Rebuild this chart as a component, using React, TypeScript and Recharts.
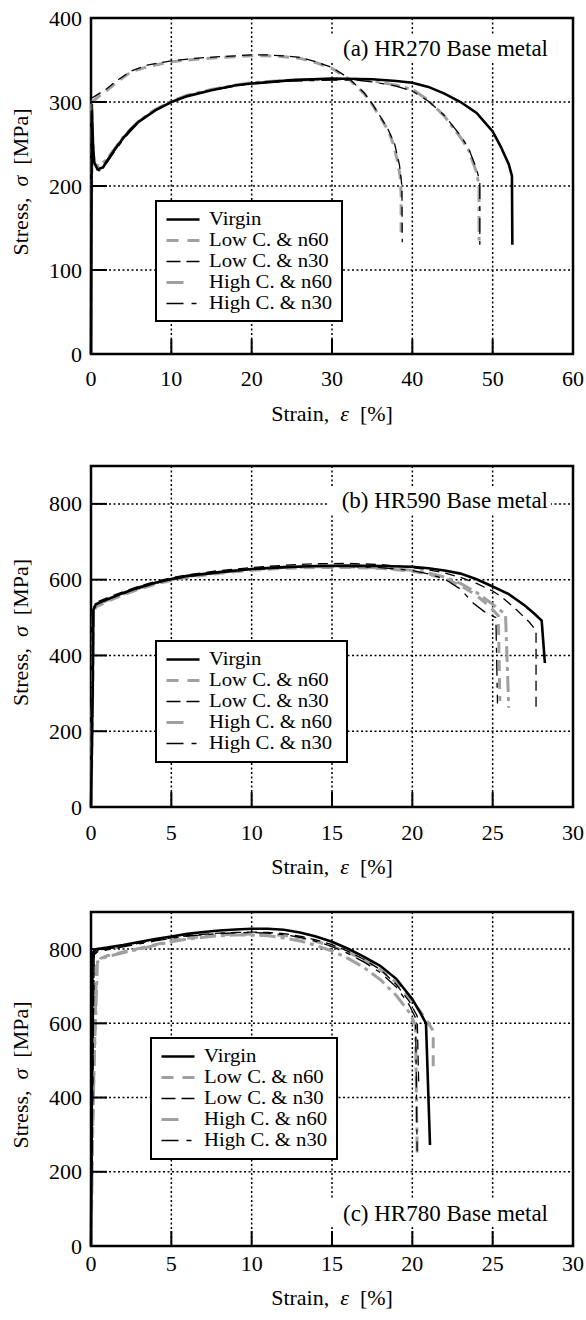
import React from 'react';
import {
  LineChart,
  Line,
  XAxis,
  YAxis,
  CartesianGrid,
  ReferenceArea,
  ReferenceDot,
  Legend,
  Label,
} from 'recharts';

type Pt = [number, number];

const FONT = '"Liberation Serif", "Times New Roman", serif';
const GRAY = '#a0a0a0';

const seriesNames = ['Virgin', 'Low C. & n60', 'Low C. & n30', 'High C. & n60', 'High C. & n30'];

// (a) HR270 : [strain %, stress MPa]
const hr270Virgin: Pt[] = [
  [0, 0], [0.05, 150], [0.1, 290], [0.25, 250], [0.4, 228], [0.8, 220], [1.5, 222], [2, 230],
  [3, 244], [4, 257], [5, 268], [6, 277], [8, 290], [10, 300], [12, 307], [15, 314], [18, 320],
  [20, 322], [25, 326], [30, 328], [35, 327], [38, 325], [40, 323], [42, 318], [44, 310], [46, 300],
  [48, 287], [50, 265], [51, 247], [52, 226], [52.4, 212], [52.45, 130],
];
const hr270LowN60: Pt[] = [
  [0, 0], [0.05, 150], [0.15, 300], [0.5, 303], [1, 307], [2, 314], [3, 322], [5, 336], [7, 342],
  [10, 348], [13, 351], [16, 353], [18, 354], [20, 355], [22, 355], [24, 354], [26, 352], [28, 347],
  [30, 340], [32, 328], [34, 310], [35, 297], [36, 282], [37, 266], [37.6, 251], [38.2, 228],
  [38.5, 210], [38.6, 190], [38.6, 145],
];
const hr270LowN30: Pt[] = [
  [0, 0], [0.05, 150], [0.15, 305], [0.5, 307], [1, 310], [2, 316], [3, 324], [5, 337], [7, 344],
  [10, 349], [13, 352], [16, 354], [20, 356], [22, 356], [24, 355], [26, 353], [28, 348], [30, 341],
  [32, 329], [34, 311], [35, 298], [36, 283], [37, 267], [37.8, 250], [38.4, 225], [38.7, 200],
  [38.75, 133],
];
const hr270HighN60: Pt[] = [
  [0, 0], [0.05, 150], [0.1, 298], [0.25, 245], [0.4, 226], [1, 224], [2, 232], [3, 245], [4, 258],
  [5, 268], [6, 278], [8, 291], [10, 301], [12, 308], [15, 315], [18, 320], [20, 323], [25, 326],
  [30, 327], [33, 327], [35, 325], [38, 320], [40, 315], [42, 302], [44, 283], [46, 258], [47, 243],
  [48, 216], [48.3, 200], [48.3, 135],
];
const hr270HighN30: Pt[] = [
  [0, 0], [0.05, 150], [0.1, 290], [0.3, 240], [0.5, 222], [1, 218], [2, 228], [3, 242], [4, 255],
  [5, 266], [6, 276], [8, 290], [10, 300], [12, 307], [15, 314], [18, 319], [20, 322], [25, 325],
  [30, 326], [33, 326], [35, 324], [38, 319], [40, 313], [42, 301], [44, 284], [46, 260], [47, 245],
  [48, 220], [48.4, 205], [48.4, 130],
];

// (b) HR590
const hr590Virgin: Pt[] = [
  [0, 0], [0.1, 300], [0.15, 520], [0.3, 535], [1, 548], [2, 565], [3, 580], [4, 592], [5, 602],
  [6, 610], [8, 620], [10, 628], [12, 633], [14, 636], [16, 637], [18, 636], [20, 634], [21, 630],
  [22, 624], [23, 616], [24, 601], [25, 582], [26, 562], [27, 532], [27.6, 510], [28.05, 492],
  [28.25, 380],
];
const hr590LowN60: Pt[] = [
  [0, 0], [0.1, 300], [0.15, 510], [0.3, 528], [1, 542], [2, 560], [3, 575], [4, 588], [5, 598],
  [6, 606], [8, 617], [10, 625], [12, 630], [14, 632], [16, 632], [18, 630], [20, 622], [21, 615],
  [22, 603], [23, 585], [24, 558], [24.8, 530], [25.35, 505], [25.45, 280],
];
const hr590LowN30: Pt[] = [
  [0, 0], [0.1, 300], [0.15, 525], [0.3, 540], [1, 552], [2, 568], [3, 583], [4, 595], [5, 605],
  [6, 613], [8, 624], [10, 632], [12, 638], [14, 642], [16, 643], [18, 640], [20, 632], [21, 626],
  [22, 618], [23, 606], [24, 590], [25, 570], [25.6, 553], [26.5, 520], [27.3, 487], [27.7, 466],
  [27.7, 255],
];
const hr590HighN60: Pt[] = [
  [0, 0], [0.1, 300], [0.15, 515], [0.3, 530], [1, 545], [2, 562], [3, 577], [4, 590], [5, 600],
  [6, 608], [8, 619], [10, 627], [12, 632], [14, 634], [16, 634], [18, 631], [20, 625], [21, 618],
  [22, 607], [23, 590], [24, 566], [25, 535], [25.8, 508], [26, 262],
];
const hr590HighN30: Pt[] = [
  [0, 0], [0.1, 300], [0.15, 520], [0.3, 535], [1, 547], [2, 563], [3, 578], [4, 590], [5, 600],
  [6, 608], [8, 619], [10, 627], [12, 632], [14, 635], [16, 635], [18, 632], [20, 624], [21, 615],
  [22, 602], [23, 575], [23.8, 538], [24.5, 515], [25.2, 500], [25.3, 273],
];

// (c) HR780
const hr780Virgin: Pt[] = [
  [0, 0], [0.05, 400], [0.1, 790], [0.3, 800], [1, 804], [2, 811], [3, 819], [4, 827], [5, 834],
  [6, 841], [7, 846], [8, 850], [9, 853], [10, 855], [11, 855], [12, 852], [13, 845], [14, 834],
  [15, 820], [16, 801], [17, 779], [18, 755], [19, 720], [20, 665], [20.5, 628], [20.85, 600],
  [21.1, 272],
];
const hr780LowN60: Pt[] = [
  [0, 0], [0.1, 300], [0.2, 507], [0.35, 760], [0.6, 775], [1, 782], [2, 792], [3, 802], [4, 812],
  [5, 822], [6, 829], [7, 834], [8, 838], [9, 840], [10, 841], [11, 840], [12, 837], [13, 831],
  [14, 821], [15, 808], [16, 791], [17, 771], [18, 745], [19, 710], [20, 660], [20.7, 620],
  [21.3, 580], [21.3, 470],
];
const hr780LowN30: Pt[] = [
  [0, 0], [0.1, 400], [0.2, 790], [0.4, 795], [1, 800], [2, 808], [3, 816], [4, 824], [5, 830],
  [6, 836], [7, 840], [8, 843], [9, 845], [10, 846], [11, 845], [12, 842], [13, 835], [14, 825],
  [15, 812], [16, 794], [17, 772], [18, 745], [19, 705], [19.8, 660], [20.3, 620], [20.4, 430],
];
const hr780HighN60: Pt[] = [
  [0, 0], [0.1, 300], [0.2, 500], [0.4, 765], [0.7, 775], [1, 780], [2, 790], [3, 800], [4, 810],
  [5, 820], [6, 827], [7, 832], [8, 836], [9, 838], [10, 838], [11, 836], [12, 830], [13, 822],
  [14, 810], [15, 795], [16, 775], [17, 750], [18, 718], [19, 675], [19.8, 630], [20.2, 595],
  [20.3, 250],
];
const hr780HighN30: Pt[] = [
  [0, 0], [0.1, 400], [0.2, 785], [0.4, 792], [1, 798], [2, 806], [3, 814], [4, 822], [5, 829],
  [6, 835], [7, 839], [8, 842], [9, 844], [10, 845], [11, 843], [12, 839], [13, 832], [14, 821],
  [15, 807], [16, 788], [17, 765], [18, 737], [19, 698], [19.8, 650], [20.2, 615], [20.3, 255],
];

const ticks270X = [0, 10, 20, 30, 40, 50, 60];
const ticks270Y = [0, 100, 200, 300, 400];
const ticksX = [0, 5, 10, 15, 20, 25, 30];
const ticksY = [0, 200, 400, 600, 800];

// line styles, same order as seriesNames
const styles = [
  { stroke: '#000', width: 2.6, dash: undefined as string | undefined, legendDash: undefined as string | undefined },
  { stroke: GRAY, width: 3, dash: '11 7', legendDash: '12 9' },
  { stroke: '#000', width: 1.3, dash: '10 6', legendDash: '14 6' },
  { stroke: GRAY, width: 3, dash: '16 5 4 5', legendDash: '17 30' },
  { stroke: '#000', width: 1.3, dash: '16 7 5 7', legendDash: '17 8 5 20' },
];
const drawOrder = [1, 3, 2, 4, 0];

const LegendBox = () => (
  <div
    style={{
      boxSizing: 'border-box',
      width: '100%',
      height: '100%',
      border: '2.5px solid #000',
      background: '#fff',
      paddingTop: 7,
      fontFamily: FONT,
      fontSize: 18.5,
      lineHeight: '21px',
      color: '#000',
      textAlign: 'left',
    }}
  >
    {seriesNames.map((name, i) => (
      <div key={name} style={{ display: 'flex', alignItems: 'center', height: 21, whiteSpace: 'nowrap' }}>
        <svg width={52} height={21} style={{ flex: 'none' }}>
          <line
            x1={9.5}
            x2={42.5}
            y1={10.5}
            y2={10.5}
            stroke={styles[i].stroke}
            strokeWidth={styles[i].width}
            strokeDasharray={styles[i].legendDash}
          />
        </svg>
        <span style={{ display: 'inline-block', transform: 'scaleX(1.12)', transformOrigin: '0 50%' }}>{name}</span>
      </div>
    ))}
  </div>
);

type ChartProps = {
  curves: Pt[][];
  xMax: number;
  xTicks: number[];
  yMax: number;
  yTicks: number[];
  height: number;
  top: number;
  bottom: number;
  tickDy: number;
  titleDy: number;
  label: string;
  labelAt: Pt;
  labelDy: number;
  legend: { left: number; top: number; w: number; h: number };
};

const StressChart = (p: ChartProps) => {
  const plotLeft = 91;
  const plotRight = 573;
  const plotBottom = p.height - p.bottom;
  const plotMid = (p.top + plotBottom) / 2;

  const XTick = (t: any) => (
    <g>
      <line x1={t.x} x2={t.x} y1={plotBottom} y2={plotBottom - 15} stroke="#000" strokeWidth={2} />
      <text x={t.x} y={plotBottom + p.tickDy} textAnchor="middle" dominantBaseline="central" fontFamily={FONT} fontSize={22} fill="#000">
        {t.payload.value}
      </text>
    </g>
  );
  const YTick = (t: any) => (
    <g>
      <line x1={plotLeft} x2={plotLeft + 16} y1={t.y} y2={t.y} stroke="#000" strokeWidth={2} />
      <text x={82} y={t.y} textAnchor="end" dominantBaseline="central" fontFamily={FONT} fontSize={22} fill="#000">
        {t.payload.value}
      </text>
    </g>
  );

  return (
    <LineChart width={586} height={p.height} margin={{ top: p.top, right: 586 - plotRight, bottom: 0, left: 0 }}>
      <CartesianGrid stroke="#000" strokeWidth={1.5} strokeDasharray="2 2.5" />
      <XAxis
        type="number"
        dataKey="x"
        domain={[0, p.xMax]}
        ticks={p.xTicks}
        interval={0}
        height={p.bottom}
        axisLine={false}
        tickLine={false}
        tick={XTick}
      >
        <Label
          content={() => (
            <text x={(plotLeft + plotRight) / 2} y={plotBottom + p.titleDy} textAnchor="middle" dominantBaseline="central" fontFamily={FONT} fontSize={22} fill="#000">
              {'Strain,\u00a0\u00a0'}
              <tspan fontStyle="italic">ε</tspan>
              {'\u00a0\u00a0[%]'}
            </text>
          )}
        />
      </XAxis>
      <YAxis
        type="number"
        domain={[0, p.yMax]}
        ticks={p.yTicks}
        interval={0}
        width={plotLeft}
        axisLine={false}
        tickLine={false}
        tick={YTick}
      >
        <Label
          content={() => (
            <text x={20} y={plotMid - 4} transform={`rotate(-90, 20, ${plotMid - 4})`} textAnchor="middle" dominantBaseline="central" fontFamily={FONT} fontSize={22} fill="#000">
              {'Stress,\u00a0\u00a0'}
              <tspan fontStyle="italic">σ</tspan>
              {'\u00a0\u00a0[MPa]'}
            </text>
          )}
        />
      </YAxis>
      {drawOrder.map((i) => (
        <Line
          key={seriesNames[i]}
          name={seriesNames[i]}
          data={p.curves[i].map(([x, y]) => ({ x, y }))}
          dataKey="y"
          type="linear"
          stroke={styles[i].stroke}
          strokeWidth={styles[i].width}
          strokeDasharray={styles[i].dash}
          dot={false}
          activeDot={false}
          isAnimationActive={false}
        />
      ))}
      <ReferenceArea x1={0} x2={p.xMax} y1={0} y2={p.yMax} fill="none" stroke="#000" strokeWidth={2.5} ifOverflow="visible" />
      <ReferenceDot
        x={p.labelAt[0]}
        y={p.labelAt[1]}
        r={0}
        ifOverflow="visible"
        shape={(s: any) => (
          <g>
            <rect x={s.cx - 25 - 219} y={s.cy + p.labelDy - 13} width={222} height={26} fill="#fff" />
            <text x={s.cx - 25} y={s.cy + p.labelDy} textAnchor="end" dominantBaseline="central" fontFamily={FONT} fontSize={23} fill="#000">
              {p.label}
            </text>
          </g>
        )}
      />
      <Legend
        layout="vertical"
        align="center"
        verticalAlign="middle"
        wrapperStyle={{ left: p.legend.left, top: p.legend.top, width: p.legend.w, height: p.legend.h }}
        content={() => <LegendBox />}
      />
    </LineChart>
  );
};

export default function App() {
  return (
    <div style={{ position: 'absolute', left: 0, top: 0, width: 586, background: '#fff' }}>
      <StressChart
        curves={[hr270Virgin, hr270LowN60, hr270LowN30, hr270HighN60, hr270HighN30]}
        xMax={60}
        xTicks={ticks270X}
        yMax={400}
        yTicks={ticks270Y}
        height={446}
        top={18}
        bottom={92}
        tickDy={24}
        titleDy={59}
        label="(a) HR270 Base metal"
        labelAt={[60, 400]}
        labelDy={30}
        legend={{ left: 155, top: 200, w: 188, h: 122 }}
      />
      <StressChart
        curves={[hr590Virgin, hr590LowN60, hr590LowN30, hr590HighN60, hr590HighN30]}
        xMax={30}
        xTicks={ticksX}
        yMax={900}
        yTicks={ticksY}
        height={446}
        top={20}
        bottom={85}
        tickDy={25}
        titleDy={59}
        label="(b) HR590 Base metal"
        labelAt={[30, 900]}
        labelDy={34}
        legend={{ left: 155, top: 194, w: 193, h: 123 }}
      />
      <StressChart
        curves={[hr780Virgin, hr780LowN60, hr780LowN30, hr780HighN60, hr780HighN30]}
        xMax={30}
        xTicks={ticksX}
        yMax={900}
        yTicks={ticksY}
        height={428}
        top={20}
        bottom={74}
        tickDy={17}
        titleDy={51}
        label="(c) HR780 Base metal"
        labelAt={[30, 0]}
        labelDy={-33}
        legend={{ left: 150, top: 145, w: 188, h: 123 }}
      />
    </div>
  );
}
